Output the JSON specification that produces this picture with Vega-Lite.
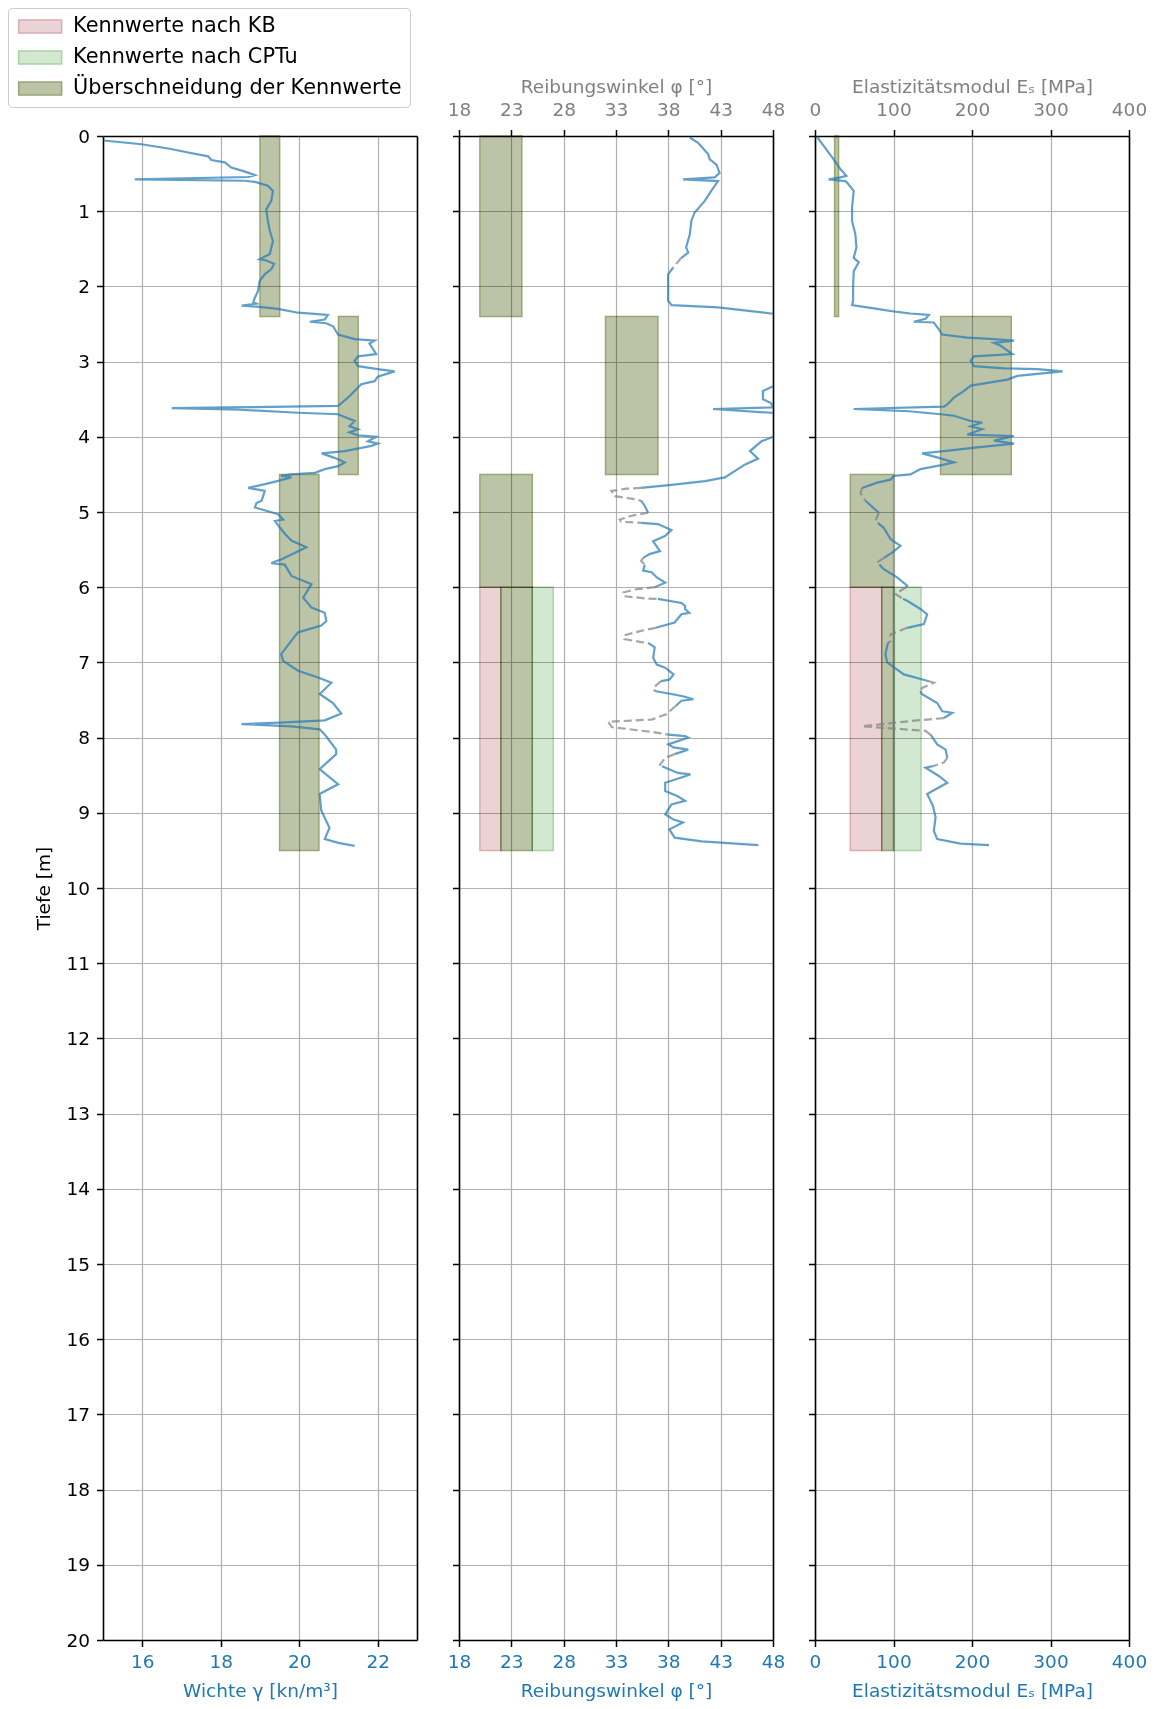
{
  "$schema": "https://vega.github.io/schema/vega-lite/v6.json",
  "autosize": {"type": "pad"},
  "padding": {"left": 7, "top": 7, "right": 10, "bottom": 4},
  "spacing": 42,
  "bounds": "flush",
  "datasets": {
    "bereiche": [
      {"param": "gamma", "kategorie": "Überschneidung der Kennwerte", "tiefe_von": 0, "tiefe_bis": 2.4, "wert_von": 19, "wert_bis": 19.5},
      {"param": "gamma", "kategorie": "Überschneidung der Kennwerte", "tiefe_von": 2.4, "tiefe_bis": 4.5, "wert_von": 21, "wert_bis": 21.5},
      {"param": "gamma", "kategorie": "Überschneidung der Kennwerte", "tiefe_von": 4.5, "tiefe_bis": 9.5, "wert_von": 19.5, "wert_bis": 20.5},
      {"param": "phi", "kategorie": "Überschneidung der Kennwerte", "tiefe_von": 0, "tiefe_bis": 2.4, "wert_von": 20, "wert_bis": 24},
      {"param": "phi", "kategorie": "Überschneidung der Kennwerte", "tiefe_von": 2.4, "tiefe_bis": 4.5, "wert_von": 32, "wert_bis": 37},
      {"param": "phi", "kategorie": "Überschneidung der Kennwerte", "tiefe_von": 4.5, "tiefe_bis": 6, "wert_von": 20, "wert_bis": 25},
      {"param": "phi", "kategorie": "Kennwerte nach KB", "tiefe_von": 6, "tiefe_bis": 9.5, "wert_von": 20, "wert_bis": 22},
      {"param": "phi", "kategorie": "Kennwerte nach CPTu", "tiefe_von": 6, "tiefe_bis": 9.5, "wert_von": 25, "wert_bis": 27},
      {"param": "phi", "kategorie": "Überschneidung der Kennwerte", "tiefe_von": 6, "tiefe_bis": 9.5, "wert_von": 22, "wert_bis": 25},
      {"param": "es", "kategorie": "Überschneidung der Kennwerte", "tiefe_von": 0, "tiefe_bis": 2.4, "wert_von": 25, "wert_bis": 30},
      {"param": "es", "kategorie": "Überschneidung der Kennwerte", "tiefe_von": 2.4, "tiefe_bis": 4.5, "wert_von": 160, "wert_bis": 250},
      {"param": "es", "kategorie": "Überschneidung der Kennwerte", "tiefe_von": 4.5, "tiefe_bis": 6, "wert_von": 45, "wert_bis": 100},
      {"param": "es", "kategorie": "Kennwerte nach KB", "tiefe_von": 6, "tiefe_bis": 9.5, "wert_von": 45, "wert_bis": 85},
      {"param": "es", "kategorie": "Kennwerte nach CPTu", "tiefe_von": 6, "tiefe_bis": 9.5, "wert_von": 100, "wert_bis": 135},
      {"param": "es", "kategorie": "Überschneidung der Kennwerte", "tiefe_von": 6, "tiefe_bis": 9.5, "wert_von": 85, "wert_bis": 100}
    ],
    "gamma": [
      {"t": 0.06, "v": 15.02}, {"t": 0.11, "v": 15.98}, {"t": 0.17, "v": 16.7}, {"t": 0.22, "v": 17.17}, {"t": 0.27, "v": 17.68},
      {"t": 0.32, "v": 17.76}, {"t": 0.35, "v": 18.1}, {"t": 0.42, "v": 18.27}, {"t": 0.47, "v": 18.6}, {"t": 0.52, "v": 18.87},
      {"t": 0.545, "v": 18.7}, {"t": 0.576, "v": 15.81}, {"t": 0.595, "v": 18.6}, {"t": 0.61, "v": 18.87}, {"t": 0.66, "v": 19.2},
      {"t": 0.73, "v": 19.33}, {"t": 0.86, "v": 19.29}, {"t": 0.975, "v": 19.16}, {"t": 1.13, "v": 19.2}, {"t": 1.26, "v": 19.25},
      {"t": 1.4, "v": 19.33}, {"t": 1.48, "v": 19.29}, {"t": 1.57, "v": 19.25}, {"t": 1.64, "v": 18.99}, {"t": 1.655, "v": 19.16},
      {"t": 1.7, "v": 19.36}, {"t": 1.77, "v": 19.29}, {"t": 1.84, "v": 19.12}, {"t": 1.93, "v": 18.99}, {"t": 2.06, "v": 18.95},
      {"t": 2.15, "v": 18.87}, {"t": 2.21, "v": 18.83}, {"t": 2.23, "v": 18.91}, {"t": 2.255, "v": 18.53}, {"t": 2.27, "v": 18.91},
      {"t": 2.3, "v": 19.46}, {"t": 2.35, "v": 19.97}, {"t": 2.38, "v": 20.73}, {"t": 2.44, "v": 20.65}, {"t": 2.47, "v": 20.27},
      {"t": 2.49, "v": 20.69}, {"t": 2.53, "v": 20.86}, {"t": 2.64, "v": 20.99}, {"t": 2.7, "v": 21.41}, {"t": 2.72, "v": 21.92},
      {"t": 2.76, "v": 21.79}, {"t": 2.9, "v": 21.96}, {"t": 2.93, "v": 21.5}, {"t": 2.99, "v": 21.41}, {"t": 3.06, "v": 21.5},
      {"t": 3.1, "v": 22.0}, {"t": 3.13, "v": 22.43}, {"t": 3.2, "v": 22.0}, {"t": 3.26, "v": 21.92}, {"t": 3.3, "v": 21.58},
      {"t": 3.39, "v": 21.41}, {"t": 3.48, "v": 21.24}, {"t": 3.59, "v": 20.99}, {"t": 3.61, "v": 18.2}, {"t": 3.62, "v": 16.75},
      {"t": 3.64, "v": 18.5}, {"t": 3.68, "v": 19.97}, {"t": 3.7, "v": 20.99}, {"t": 3.79, "v": 21.41}, {"t": 3.86, "v": 21.28},
      {"t": 3.9, "v": 21.5}, {"t": 3.94, "v": 21.28}, {"t": 3.98, "v": 21.5}, {"t": 4.0, "v": 21.96}, {"t": 4.06, "v": 21.75},
      {"t": 4.09, "v": 22.0}, {"t": 4.12, "v": 21.84}, {"t": 4.19, "v": 21.16}, {"t": 4.22, "v": 20.57}, {"t": 4.28, "v": 20.9},
      {"t": 4.34, "v": 21.16}, {"t": 4.39, "v": 20.99}, {"t": 4.43, "v": 20.65}, {"t": 4.48, "v": 20.4}, {"t": 4.5, "v": 19.8},
      {"t": 4.52, "v": 19.54}, {"t": 4.54, "v": 19.8}, {"t": 4.61, "v": 19.29}, {"t": 4.68, "v": 18.7}, {"t": 4.72, "v": 19.12},
      {"t": 4.79, "v": 19.08}, {"t": 4.85, "v": 19.04}, {"t": 4.88, "v": 18.91}, {"t": 4.94, "v": 18.87}, {"t": 5.03, "v": 19.46},
      {"t": 5.1, "v": 19.59}, {"t": 5.12, "v": 19.38}, {"t": 5.23, "v": 19.54}, {"t": 5.3, "v": 19.65}, {"t": 5.38, "v": 19.8},
      {"t": 5.47, "v": 20.18}, {"t": 5.63, "v": 19.54}, {"t": 5.68, "v": 19.29}, {"t": 5.7, "v": 19.63}, {"t": 5.85, "v": 19.8},
      {"t": 5.94, "v": 20.22}, {"t": 5.96, "v": 20.31}, {"t": 6.14, "v": 20.1}, {"t": 6.27, "v": 20.31}, {"t": 6.34, "v": 20.65},
      {"t": 6.45, "v": 20.69}, {"t": 6.51, "v": 20.56}, {"t": 6.6, "v": 19.97}, {"t": 6.71, "v": 19.8}, {"t": 6.89, "v": 19.54},
      {"t": 6.98, "v": 19.59}, {"t": 7.11, "v": 19.97}, {"t": 7.2, "v": 20.48}, {"t": 7.27, "v": 20.82}, {"t": 7.42, "v": 20.52},
      {"t": 7.54, "v": 20.86}, {"t": 7.68, "v": 21.07}, {"t": 7.77, "v": 20.65}, {"t": 7.8, "v": 19.5}, {"t": 7.82, "v": 18.53},
      {"t": 7.85, "v": 19.8}, {"t": 7.89, "v": 20.52}, {"t": 7.96, "v": 20.65}, {"t": 8.16, "v": 20.94}, {"t": 8.22, "v": 20.94},
      {"t": 8.42, "v": 20.52}, {"t": 8.62, "v": 20.99}, {"t": 8.75, "v": 20.52}, {"t": 8.97, "v": 20.56}, {"t": 9.2, "v": 20.77},
      {"t": 9.35, "v": 20.65}, {"t": 9.4, "v": 21.0}, {"t": 9.44, "v": 21.41}
    ],
    "phi": [
      {"t": 0.02, "v": 40.05, "typ": "b", "seg": 1}, {"t": 0.09, "v": 40.84, "typ": "b", "seg": 1}, {"t": 0.24, "v": 41.8, "typ": "b", "seg": 1},
      {"t": 0.31, "v": 41.96, "typ": "b", "seg": 1}, {"t": 0.38, "v": 42.6, "typ": "b", "seg": 1}, {"t": 0.49, "v": 42.9, "typ": "b", "seg": 1},
      {"t": 0.55, "v": 42.43, "typ": "b", "seg": 1}, {"t": 0.576, "v": 39.4, "typ": "b", "seg": 1}, {"t": 0.6, "v": 42.75, "typ": "b", "seg": 1},
      {"t": 0.73, "v": 42.1, "typ": "b", "seg": 1}, {"t": 0.86, "v": 41.5, "typ": "b", "seg": 1}, {"t": 1.02, "v": 40.5, "typ": "b", "seg": 1},
      {"t": 1.13, "v": 40.2, "typ": "b", "seg": 1}, {"t": 1.31, "v": 40.05, "typ": "b", "seg": 1}, {"t": 1.48, "v": 39.7, "typ": "b", "seg": 1},
      {"t": 1.55, "v": 39.9, "typ": "b", "seg": 1}, {"t": 1.62, "v": 39.25, "typ": "b", "seg": 1},
      {"t": 1.62, "v": 39.25, "typ": "g", "seg": 2}, {"t": 1.75, "v": 38.45, "typ": "g", "seg": 2},
      {"t": 1.75, "v": 38.45, "typ": "b", "seg": 3}, {"t": 1.84, "v": 37.98, "typ": "b", "seg": 3}, {"t": 2.02, "v": 37.98, "typ": "b", "seg": 3},
      {"t": 2.19, "v": 37.98, "typ": "b", "seg": 3}, {"t": 2.25, "v": 38.3, "typ": "b", "seg": 3}, {"t": 2.28, "v": 42.75, "typ": "b", "seg": 3},
      {"t": 2.36, "v": 47.8, "typ": "b", "seg": 3}, {"t": 2.45, "v": 53, "typ": "b", "seg": 3}, {"t": 2.8, "v": 57, "typ": "b", "seg": 3},
      {"t": 3.2, "v": 53, "typ": "b", "seg": 3}, {"t": 3.33, "v": 48.0, "typ": "b", "seg": 3}, {"t": 3.39, "v": 47.04, "typ": "b", "seg": 3},
      {"t": 3.5, "v": 47.04, "typ": "b", "seg": 3}, {"t": 3.55, "v": 47.8, "typ": "b", "seg": 3}, {"t": 3.61, "v": 48.0, "typ": "b", "seg": 3},
      {"t": 3.63, "v": 42.27, "typ": "b", "seg": 3}, {"t": 3.68, "v": 47.8, "typ": "b", "seg": 3}, {"t": 3.75, "v": 52, "typ": "b", "seg": 3},
      {"t": 3.9, "v": 52, "typ": "b", "seg": 3}, {"t": 4.0, "v": 48.0, "typ": "b", "seg": 3}, {"t": 4.06, "v": 46.9, "typ": "b", "seg": 3},
      {"t": 4.19, "v": 45.8, "typ": "b", "seg": 3}, {"t": 4.29, "v": 46.57, "typ": "b", "seg": 3}, {"t": 4.37, "v": 45.3, "typ": "b", "seg": 3},
      {"t": 4.54, "v": 43.4, "typ": "b", "seg": 3}, {"t": 4.59, "v": 41.5, "typ": "b", "seg": 3}, {"t": 4.64, "v": 38.3, "typ": "b", "seg": 3},
      {"t": 4.68, "v": 35.4, "typ": "b", "seg": 3},
      {"t": 4.68, "v": 35.4, "typ": "g", "seg": 4}, {"t": 4.69, "v": 34.0, "typ": "g", "seg": 4}, {"t": 4.72, "v": 32.57, "typ": "g", "seg": 4},
      {"t": 4.79, "v": 32.9, "typ": "g", "seg": 4}, {"t": 4.83, "v": 34.8, "typ": "g", "seg": 4}, {"t": 4.85, "v": 35.4, "typ": "g", "seg": 4},
      {"t": 4.85, "v": 35.4, "typ": "b", "seg": 5}, {"t": 4.92, "v": 35.75, "typ": "b", "seg": 5}, {"t": 5.01, "v": 36.07, "typ": "b", "seg": 5},
      {"t": 5.01, "v": 36.07, "typ": "g", "seg": 6}, {"t": 5.05, "v": 34.5, "typ": "g", "seg": 6}, {"t": 5.1, "v": 33.36, "typ": "g", "seg": 6},
      {"t": 5.13, "v": 33.5, "typ": "g", "seg": 6}, {"t": 5.145, "v": 35.4, "typ": "g", "seg": 6},
      {"t": 5.145, "v": 35.4, "typ": "b", "seg": 7}, {"t": 5.16, "v": 37.0, "typ": "b", "seg": 7}, {"t": 5.24, "v": 38.3, "typ": "b", "seg": 7},
      {"t": 5.32, "v": 37.67, "typ": "b", "seg": 7}, {"t": 5.39, "v": 36.55, "typ": "b", "seg": 7}, {"t": 5.52, "v": 37.2, "typ": "b", "seg": 7},
      {"t": 5.56, "v": 36.2, "typ": "b", "seg": 7}, {"t": 5.61, "v": 35.6, "typ": "b", "seg": 7},
      {"t": 5.61, "v": 35.6, "typ": "g", "seg": 8}, {"t": 5.65, "v": 35.4, "typ": "g", "seg": 8}, {"t": 5.7, "v": 35.75, "typ": "g", "seg": 8},
      {"t": 5.7, "v": 35.75, "typ": "b", "seg": 9}, {"t": 5.78, "v": 35.6, "typ": "b", "seg": 9}, {"t": 5.8, "v": 36.4, "typ": "b", "seg": 9},
      {"t": 5.87, "v": 36.9, "typ": "b", "seg": 9}, {"t": 5.94, "v": 37.7, "typ": "b", "seg": 9}, {"t": 6.0, "v": 36.7, "typ": "b", "seg": 9},
      {"t": 6.0, "v": 36.7, "typ": "g", "seg": 10}, {"t": 6.03, "v": 34.8, "typ": "g", "seg": 10}, {"t": 6.07, "v": 33.7, "typ": "g", "seg": 10},
      {"t": 6.12, "v": 33.8, "typ": "g", "seg": 10}, {"t": 6.15, "v": 35.9, "typ": "g", "seg": 10}, {"t": 6.155, "v": 37.0, "typ": "g", "seg": 10},
      {"t": 6.155, "v": 37.0, "typ": "b", "seg": 11}, {"t": 6.21, "v": 39.25, "typ": "b", "seg": 11}, {"t": 6.25, "v": 39.6, "typ": "b", "seg": 11},
      {"t": 6.29, "v": 39.6, "typ": "b", "seg": 11}, {"t": 6.34, "v": 40.0, "typ": "b", "seg": 11}, {"t": 6.36, "v": 39.25, "typ": "b", "seg": 11},
      {"t": 6.47, "v": 38.6, "typ": "b", "seg": 11}, {"t": 6.54, "v": 36.8, "typ": "b", "seg": 11},
      {"t": 6.54, "v": 36.8, "typ": "g", "seg": 12}, {"t": 6.58, "v": 35.4, "typ": "g", "seg": 12}, {"t": 6.64, "v": 33.8, "typ": "g", "seg": 12},
      {"t": 6.69, "v": 33.8, "typ": "g", "seg": 12}, {"t": 6.73, "v": 35.4, "typ": "g", "seg": 12}, {"t": 6.74, "v": 36.07, "typ": "g", "seg": 12},
      {"t": 6.74, "v": 36.07, "typ": "b", "seg": 13}, {"t": 6.8, "v": 36.7, "typ": "b", "seg": 13}, {"t": 6.94, "v": 36.55, "typ": "b", "seg": 13},
      {"t": 7.03, "v": 36.9, "typ": "b", "seg": 13}, {"t": 7.07, "v": 37.7, "typ": "b", "seg": 13}, {"t": 7.16, "v": 38.5, "typ": "b", "seg": 13},
      {"t": 7.23, "v": 38.1, "typ": "b", "seg": 13}, {"t": 7.25, "v": 37.3, "typ": "b", "seg": 13},
      {"t": 7.25, "v": 37.3, "typ": "g", "seg": 14}, {"t": 7.34, "v": 36.55, "typ": "g", "seg": 14}, {"t": 7.38, "v": 36.7, "typ": "g", "seg": 14},
      {"t": 7.38, "v": 36.7, "typ": "b", "seg": 15}, {"t": 7.42, "v": 38.3, "typ": "b", "seg": 15}, {"t": 7.45, "v": 39.4, "typ": "b", "seg": 15},
      {"t": 7.49, "v": 40.4, "typ": "b", "seg": 15}, {"t": 7.51, "v": 39.25, "typ": "b", "seg": 15}, {"t": 7.58, "v": 38.7, "typ": "b", "seg": 15},
      {"t": 7.58, "v": 38.7, "typ": "g", "seg": 16}, {"t": 7.69, "v": 37.8, "typ": "g", "seg": 16}, {"t": 7.76, "v": 36.4, "typ": "g", "seg": 16},
      {"t": 7.79, "v": 32.25, "typ": "g", "seg": 16}, {"t": 7.86, "v": 32.6, "typ": "g", "seg": 16}, {"t": 7.93, "v": 36.7, "typ": "g", "seg": 16},
      {"t": 7.96, "v": 38.0, "typ": "g", "seg": 16},
      {"t": 7.96, "v": 38.0, "typ": "b", "seg": 17}, {"t": 7.98, "v": 39.6, "typ": "b", "seg": 17}, {"t": 8.0, "v": 39.9, "typ": "b", "seg": 17},
      {"t": 8.09, "v": 38.0, "typ": "b", "seg": 17}, {"t": 8.13, "v": 38.5, "typ": "b", "seg": 17}, {"t": 8.16, "v": 39.9, "typ": "b", "seg": 17},
      {"t": 8.22, "v": 38.6, "typ": "b", "seg": 17},
      {"t": 8.22, "v": 38.6, "typ": "g", "seg": 18}, {"t": 8.27, "v": 37.7, "typ": "g", "seg": 18}, {"t": 8.36, "v": 37.2, "typ": "g", "seg": 18},
      {"t": 8.38, "v": 37.4, "typ": "g", "seg": 18},
      {"t": 8.38, "v": 37.4, "typ": "b", "seg": 19}, {"t": 8.47, "v": 38.9, "typ": "b", "seg": 19}, {"t": 8.49, "v": 40.1, "typ": "b", "seg": 19},
      {"t": 8.53, "v": 39.25, "typ": "b", "seg": 19}, {"t": 8.6, "v": 37.7, "typ": "b", "seg": 19}, {"t": 8.71, "v": 37.7, "typ": "b", "seg": 19},
      {"t": 8.78, "v": 38.9, "typ": "b", "seg": 19}, {"t": 8.84, "v": 39.6, "typ": "b", "seg": 19}, {"t": 8.89, "v": 38.3, "typ": "b", "seg": 19},
      {"t": 9.02, "v": 37.7, "typ": "b", "seg": 19}, {"t": 9.09, "v": 38.5, "typ": "b", "seg": 19}, {"t": 9.13, "v": 39.4, "typ": "b", "seg": 19},
      {"t": 9.22, "v": 38.1, "typ": "b", "seg": 19}, {"t": 9.33, "v": 38.6, "typ": "b", "seg": 19}, {"t": 9.38, "v": 41.2, "typ": "b", "seg": 19},
      {"t": 9.43, "v": 46.6, "typ": "b", "seg": 19}
    ],
    "es": [
      {"t": 0.01, "v": 2.5, "typ": "b", "seg": 1}, {"t": 0.16, "v": 13.2, "typ": "b", "seg": 1}, {"t": 0.31, "v": 23.8, "typ": "b", "seg": 1},
      {"t": 0.44, "v": 32.3, "typ": "b", "seg": 1}, {"t": 0.53, "v": 40, "typ": "b", "seg": 1}, {"t": 0.55, "v": 32.3, "typ": "b", "seg": 1},
      {"t": 0.576, "v": 17.4, "typ": "b", "seg": 1}, {"t": 0.6, "v": 38.7, "typ": "b", "seg": 1}, {"t": 0.62, "v": 40.8, "typ": "b", "seg": 1},
      {"t": 0.73, "v": 49.3, "typ": "b", "seg": 1}, {"t": 0.95, "v": 47.2, "typ": "b", "seg": 1}, {"t": 1.13, "v": 47.2, "typ": "b", "seg": 1},
      {"t": 1.31, "v": 51.4, "typ": "b", "seg": 1}, {"t": 1.48, "v": 52.8, "typ": "b", "seg": 1}, {"t": 1.62, "v": 49.3, "typ": "b", "seg": 1},
      {"t": 1.68, "v": 55.7, "typ": "b", "seg": 1}, {"t": 1.8, "v": 49.3, "typ": "b", "seg": 1}, {"t": 2.02, "v": 48.5, "typ": "b", "seg": 1},
      {"t": 2.19, "v": 48.5, "typ": "b", "seg": 1}, {"t": 2.25, "v": 47.2, "typ": "b", "seg": 1}, {"t": 2.3, "v": 79.1, "typ": "b", "seg": 1},
      {"t": 2.34, "v": 104.6, "typ": "b", "seg": 1}, {"t": 2.36, "v": 121.6, "typ": "b", "seg": 1}, {"t": 2.38, "v": 145, "typ": "b", "seg": 1},
      {"t": 2.43, "v": 140.8, "typ": "b", "seg": 1}, {"t": 2.47, "v": 125.9, "typ": "b", "seg": 1}, {"t": 2.48, "v": 151.4, "typ": "b", "seg": 1},
      {"t": 2.57, "v": 157.8, "typ": "b", "seg": 1}, {"t": 2.64, "v": 162, "typ": "b", "seg": 1}, {"t": 2.68, "v": 194, "typ": "b", "seg": 1},
      {"t": 2.7, "v": 228, "typ": "b", "seg": 1}, {"t": 2.72, "v": 253.6, "typ": "b", "seg": 1}, {"t": 2.75, "v": 228, "typ": "b", "seg": 1},
      {"t": 2.79, "v": 236.6, "typ": "b", "seg": 1}, {"t": 2.9, "v": 251.5, "typ": "b", "seg": 1}, {"t": 2.93, "v": 202.5, "typ": "b", "seg": 1},
      {"t": 2.99, "v": 198.3, "typ": "b", "seg": 1}, {"t": 3.06, "v": 202.5, "typ": "b", "seg": 1}, {"t": 3.09, "v": 240.8, "typ": "b", "seg": 1},
      {"t": 3.1, "v": 283.4, "typ": "b", "seg": 1}, {"t": 3.13, "v": 315.3, "typ": "b", "seg": 1}, {"t": 3.19, "v": 257.8, "typ": "b", "seg": 1},
      {"t": 3.24, "v": 245.1, "typ": "b", "seg": 1}, {"t": 3.32, "v": 198.3, "typ": "b", "seg": 1}, {"t": 3.39, "v": 189.8, "typ": "b", "seg": 1},
      {"t": 3.48, "v": 177, "typ": "b", "seg": 1}, {"t": 3.57, "v": 168.5, "typ": "b", "seg": 1}, {"t": 3.6, "v": 164.3, "typ": "b", "seg": 1},
      {"t": 3.63, "v": 49.3, "typ": "b", "seg": 1}, {"t": 3.66, "v": 120, "typ": "b", "seg": 1}, {"t": 3.7, "v": 160, "typ": "b", "seg": 1},
      {"t": 3.72, "v": 177, "typ": "b", "seg": 1}, {"t": 3.79, "v": 198.3, "typ": "b", "seg": 1}, {"t": 3.81, "v": 213.1, "typ": "b", "seg": 1},
      {"t": 3.86, "v": 198.3, "typ": "b", "seg": 1}, {"t": 3.9, "v": 213.1, "typ": "b", "seg": 1}, {"t": 3.97, "v": 194, "typ": "b", "seg": 1},
      {"t": 3.99, "v": 253.6, "typ": "b", "seg": 1}, {"t": 4.05, "v": 228, "typ": "b", "seg": 1}, {"t": 4.09, "v": 253.6, "typ": "b", "seg": 1},
      {"t": 4.14, "v": 206.8, "typ": "b", "seg": 1}, {"t": 4.19, "v": 164.3, "typ": "b", "seg": 1}, {"t": 4.22, "v": 136.5, "typ": "b", "seg": 1},
      {"t": 4.28, "v": 157.8, "typ": "b", "seg": 1}, {"t": 4.34, "v": 177, "typ": "b", "seg": 1}, {"t": 4.37, "v": 164.3, "typ": "b", "seg": 1},
      {"t": 4.43, "v": 134.4, "typ": "b", "seg": 1}, {"t": 4.5, "v": 121.6, "typ": "b", "seg": 1}, {"t": 4.52, "v": 100.4, "typ": "b", "seg": 1},
      {"t": 4.57, "v": 96.1, "typ": "b", "seg": 1}, {"t": 4.61, "v": 79.1, "typ": "b", "seg": 1}, {"t": 4.68, "v": 60, "typ": "b", "seg": 1},
      {"t": 4.68, "v": 60, "typ": "g", "seg": 2}, {"t": 4.75, "v": 58, "typ": "g", "seg": 2}, {"t": 4.85, "v": 64.2, "typ": "g", "seg": 2},
      {"t": 4.85, "v": 64.2, "typ": "b", "seg": 3}, {"t": 5.01, "v": 81.2, "typ": "b", "seg": 3},
      {"t": 5.01, "v": 81.2, "typ": "g", "seg": 4}, {"t": 5.12, "v": 77, "typ": "g", "seg": 4}, {"t": 5.145, "v": 80, "typ": "g", "seg": 4},
      {"t": 5.145, "v": 80, "typ": "b", "seg": 5}, {"t": 5.21, "v": 87.6, "typ": "b", "seg": 5}, {"t": 5.36, "v": 96.1, "typ": "b", "seg": 5},
      {"t": 5.45, "v": 108.9, "typ": "b", "seg": 5}, {"t": 5.54, "v": 98.3, "typ": "b", "seg": 5}, {"t": 5.61, "v": 88, "typ": "b", "seg": 5},
      {"t": 5.61, "v": 88, "typ": "g", "seg": 6}, {"t": 5.67, "v": 79.1, "typ": "g", "seg": 6}, {"t": 5.7, "v": 82, "typ": "g", "seg": 6},
      {"t": 5.7, "v": 82, "typ": "b", "seg": 7}, {"t": 5.76, "v": 87.6, "typ": "b", "seg": 7}, {"t": 5.87, "v": 104.6, "typ": "b", "seg": 7},
      {"t": 5.98, "v": 117.4, "typ": "b", "seg": 7}, {"t": 6.0, "v": 116, "typ": "b", "seg": 7},
      {"t": 6.0, "v": 116, "typ": "g", "seg": 8}, {"t": 6.09, "v": 102.5, "typ": "g", "seg": 8}, {"t": 6.155, "v": 112, "typ": "g", "seg": 8},
      {"t": 6.155, "v": 112, "typ": "b", "seg": 9}, {"t": 6.18, "v": 117.4, "typ": "b", "seg": 9}, {"t": 6.29, "v": 134.4, "typ": "b", "seg": 9},
      {"t": 6.36, "v": 142.9, "typ": "b", "seg": 9}, {"t": 6.49, "v": 138.7, "typ": "b", "seg": 9}, {"t": 6.54, "v": 117.4, "typ": "b", "seg": 9},
      {"t": 6.54, "v": 117.4, "typ": "g", "seg": 10}, {"t": 6.63, "v": 96.1, "typ": "g", "seg": 10}, {"t": 6.72, "v": 96.1, "typ": "g", "seg": 10},
      {"t": 6.74, "v": 93, "typ": "g", "seg": 10},
      {"t": 6.74, "v": 93, "typ": "b", "seg": 11}, {"t": 6.89, "v": 89.7, "typ": "b", "seg": 11}, {"t": 7.0, "v": 91.9, "typ": "b", "seg": 11},
      {"t": 7.16, "v": 113.2, "typ": "b", "seg": 11}, {"t": 7.25, "v": 145.1, "typ": "b", "seg": 11},
      {"t": 7.25, "v": 145.1, "typ": "g", "seg": 12}, {"t": 7.27, "v": 151.4, "typ": "g", "seg": 12}, {"t": 7.34, "v": 136.5, "typ": "g", "seg": 12},
      {"t": 7.38, "v": 134.4, "typ": "g", "seg": 12},
      {"t": 7.38, "v": 134.4, "typ": "b", "seg": 13}, {"t": 7.42, "v": 136, "typ": "b", "seg": 13}, {"t": 7.54, "v": 155.7, "typ": "b", "seg": 13},
      {"t": 7.65, "v": 162.1, "typ": "b", "seg": 13}, {"t": 7.67, "v": 174.9, "typ": "b", "seg": 13}, {"t": 7.74, "v": 164.2, "typ": "b", "seg": 13},
      {"t": 7.74, "v": 164.2, "typ": "g", "seg": 14}, {"t": 7.78, "v": 121.7, "typ": "g", "seg": 14}, {"t": 7.85, "v": 60, "typ": "g", "seg": 14},
      {"t": 7.88, "v": 100.4, "typ": "g", "seg": 14}, {"t": 7.91, "v": 140.8, "typ": "g", "seg": 14}, {"t": 7.96, "v": 147.2, "typ": "g", "seg": 14},
      {"t": 7.96, "v": 147.2, "typ": "b", "seg": 15}, {"t": 8.09, "v": 155.7, "typ": "b", "seg": 15}, {"t": 8.16, "v": 166.4, "typ": "b", "seg": 15},
      {"t": 8.27, "v": 168.5, "typ": "b", "seg": 15},
      {"t": 8.27, "v": 168.5, "typ": "g", "seg": 16}, {"t": 8.33, "v": 164.3, "typ": "g", "seg": 16}, {"t": 8.38, "v": 150, "typ": "g", "seg": 16},
      {"t": 8.38, "v": 150, "typ": "b", "seg": 17}, {"t": 8.4, "v": 140.8, "typ": "b", "seg": 17}, {"t": 8.51, "v": 157.8, "typ": "b", "seg": 17},
      {"t": 8.6, "v": 168.5, "typ": "b", "seg": 17}, {"t": 8.75, "v": 142.9, "typ": "b", "seg": 17}, {"t": 8.9, "v": 150, "typ": "b", "seg": 17},
      {"t": 9.06, "v": 153.6, "typ": "b", "seg": 17}, {"t": 9.24, "v": 151.4, "typ": "b", "seg": 17}, {"t": 9.35, "v": 155.7, "typ": "b", "seg": 17},
      {"t": 9.41, "v": 185.5, "typ": "b", "seg": 17}, {"t": 9.43, "v": 221.7, "typ": "b", "seg": 17}
    ]
  },
  "hconcat": [
    {
      "width": 314,
      "height": 1504,
      "layer": [
        {
          "data": {"name": "bereiche"},
          "transform": [{"filter": "datum.param == 'gamma'"}],
          "mark": {"type": "rect", "strokeWidth": 1.5, "blend": "multiply"},
          "encoding": {
            "x": {"field": "wert_von", "type": "quantitative",
              "scale": {"domain": [15, 23], "nice": false, "zero": false},
              "axis": {"orient": "bottom", "values": [16, 18, 20, 22], "grid": true, "gridColor": "#b0b0b0", "gridWidth": 1.2,
                "domainColor": "black", "domainWidth": 1.6, "tickColor": "black", "tickSize": 6.5, "tickWidth": 1.5,
                "labelColor": "#1f77b4", "labelFontSize": 18.5, "labelPadding": 6, "labelFlush": false, "labelOverlap": false,
                "title": "Wichte γ [kn/m³]", "titleColor": "#1f77b4", "titleFontSize": 18.5, "titleFontWeight": "normal", "titlePadding": 10}},
            "x2": {"field": "wert_bis"},
            "y": {"field": "tiefe_von", "type": "quantitative",
              "scale": {"domain": [0, 20], "reverse": true, "nice": false, "zero": false},
              "axis": {"orient": "left", "values": [0, 1, 2, 3, 4, 5, 6, 7, 8, 9, 10, 11, 12, 13, 14, 15, 16, 17, 18, 19, 20],
                "grid": true, "gridColor": "#b0b0b0", "gridWidth": 1.2,
                "gridOpacity": {"condition": {"test": "datum.value == 0 || datum.value == 20", "value": 0}, "value": 1},
                "domainColor": "black", "domainWidth": 1.6, "tickColor": "black", "tickSize": 6.5, "tickWidth": 1.5,
                "labelColor": "black", "labelFontSize": 18.5, "labelPadding": 7, "labelFlush": false, "labelOverlap": false,
                "title": "Tiefe [m]", "titleColor": "black", "titleFontSize": 18.5, "titleFontWeight": "normal", "titlePadding": 12}},
            "y2": {"field": "tiefe_bis"},
            "color": {"field": "kategorie", "type": "nominal",
              "scale": {"domain": ["Kennwerte nach KB", "Kennwerte nach CPTu", "Überschneidung der Kennwerte"], "range": ["#ebd2d4", "#d2e8d1", "#bcc4a8"]},
              "legend": {"title": null, "orient": "none", "legendX": -95, "legendY": -128,
                "symbolType": "M-3.07,-0.93H3.07V0.93H-3.07Z", "symbolSize": 196, "symbolStrokeWidth": 1.5,
                "labelFontSize": 20.8, "labelColor": "black", "labelOffset": 22.5, "symbolOffset": 13.75, "rowPadding": 9,
                "padding": 8, "fillColor": "white", "strokeColor": "#cccccc", "cornerRadius": 4, "labelLimit": 600}},
            "stroke": {"field": "kategorie", "type": "nominal",
              "scale": {"domain": ["Kennwerte nach KB", "Kennwerte nach CPTu", "Überschneidung der Kennwerte"], "range": ["#d9adb1", "#a9d2a7", "#98a676"]},
              "legend": {"title": null, "orient": "none", "legendX": -95, "legendY": -128,
                "symbolType": "M-3.07,-0.93H3.07V0.93H-3.07Z", "symbolSize": 196, "symbolStrokeWidth": 1.5,
                "labelFontSize": 20.8, "labelColor": "black", "labelOffset": 22.5, "symbolOffset": 13.75, "rowPadding": 9,
                "padding": 8, "fillColor": "white", "strokeColor": "#cccccc", "cornerRadius": 4, "labelLimit": 600}}
          }
        },
        {
          "data": {"name": "gamma"},
          "mark": {"type": "line", "clip": true, "strokeWidth": 2.2, "color": "#1f77b4", "strokeOpacity": 0.7},
          "encoding": {
            "x": {"field": "v", "type": "quantitative",
              "axis": {"orient": "top", "grid": false, "ticks": false, "labels": false, "title": null, "domainColor": "black", "domainWidth": 1.6}},
            "y": {"field": "t", "type": "quantitative",
              "axis": {"orient": "right", "grid": false, "ticks": false, "labels": false, "title": null, "domainColor": "black", "domainWidth": 1.6}},
            "order": {"field": "t", "type": "quantitative"}
          }
        }
      ],
      "resolve": {"axis": {"x": "independent", "y": "independent"}}
    },
    {
      "width": 314,
      "height": 1504,
      "layer": [
        {
          "data": {"name": "bereiche"},
          "transform": [{"filter": "datum.param == 'phi'"}],
          "mark": {"type": "rect", "strokeWidth": 1.5, "blend": "multiply"},
          "encoding": {
            "x": {"field": "wert_von", "type": "quantitative",
              "scale": {"domain": [18, 48], "nice": false, "zero": false},
              "axis": {"orient": "bottom", "values": [18, 23, 28, 33, 38, 43, 48], "grid": true, "gridColor": "#b0b0b0", "gridWidth": 1.2,
                "domainColor": "black", "domainWidth": 1.6, "tickColor": "black", "tickSize": 6.5, "tickWidth": 1.5,
                "labelColor": "#1f77b4", "labelFontSize": 18.5, "labelPadding": 6, "labelFlush": false, "labelOverlap": false,
                "title": "Reibungswinkel φ [°]", "titleColor": "#1f77b4", "titleFontSize": 18.5, "titleFontWeight": "normal", "titlePadding": 10}},
            "x2": {"field": "wert_bis"},
            "y": {"field": "tiefe_von", "type": "quantitative",
              "scale": {"domain": [0, 20], "reverse": true, "nice": false, "zero": false},
              "axis": {"orient": "left", "values": [0, 1, 2, 3, 4, 5, 6, 7, 8, 9, 10, 11, 12, 13, 14, 15, 16, 17, 18, 19, 20],
                "grid": true, "gridColor": "#b0b0b0", "gridWidth": 1.2,
                "gridOpacity": {"condition": {"test": "datum.value == 0 || datum.value == 20", "value": 0}, "value": 1},
                "domainColor": "black", "domainWidth": 1.6, "tickColor": "black", "tickSize": 6.5, "tickWidth": 1.5,
                "labels": false, "title": null}},
            "y2": {"field": "tiefe_bis"},
            "color": {"field": "kategorie", "type": "nominal",
              "scale": {"domain": ["Kennwerte nach KB", "Kennwerte nach CPTu", "Überschneidung der Kennwerte"], "range": ["#ebd2d4", "#d2e8d1", "#bcc4a8"]},
              "legend": {"title": null, "orient": "none", "legendX": -95, "legendY": -128,
                "symbolType": "M-3.07,-0.93H3.07V0.93H-3.07Z", "symbolSize": 196, "symbolStrokeWidth": 1.5,
                "labelFontSize": 20.8, "labelColor": "black", "labelOffset": 22.5, "symbolOffset": 13.75, "rowPadding": 9,
                "padding": 8, "fillColor": "white", "strokeColor": "#cccccc", "cornerRadius": 4, "labelLimit": 600}},
            "stroke": {"field": "kategorie", "type": "nominal",
              "scale": {"domain": ["Kennwerte nach KB", "Kennwerte nach CPTu", "Überschneidung der Kennwerte"], "range": ["#d9adb1", "#a9d2a7", "#98a676"]},
              "legend": {"title": null, "orient": "none", "legendX": -95, "legendY": -128,
                "symbolType": "M-3.07,-0.93H3.07V0.93H-3.07Z", "symbolSize": 196, "symbolStrokeWidth": 1.5,
                "labelFontSize": 20.8, "labelColor": "black", "labelOffset": 22.5, "symbolOffset": 13.75, "rowPadding": 9,
                "padding": 8, "fillColor": "white", "strokeColor": "#cccccc", "cornerRadius": 4, "labelLimit": 600}}
          }
        },
        {
          "data": {"name": "phi"},
          "transform": [{"filter": "datum.typ == 'b'"}],
          "mark": {"type": "line", "clip": true, "strokeWidth": 2.2, "color": "#1f77b4", "strokeOpacity": 0.7},
          "encoding": {
            "x": {"field": "v", "type": "quantitative",
              "axis": {"orient": "top", "values": [18, 23, 28, 33, 38, 43, 48], "grid": false,
                "domainColor": "black", "domainWidth": 1.6, "tickColor": "black", "tickSize": 6.5, "tickWidth": 1.5,
                "labelColor": "#808080", "labelFontSize": 18.5, "labelPadding": 10, "labelFlush": false, "labelOverlap": false,
                "title": "Reibungswinkel φ [°]", "titleColor": "#808080", "titleFontSize": 18.5, "titleFontWeight": "normal", "titlePadding": 4}},
            "y": {"field": "t", "type": "quantitative",
              "axis": {"orient": "right", "grid": false, "ticks": false, "labels": false, "title": null, "domainColor": "black", "domainWidth": 1.6}},
            "detail": {"field": "seg", "type": "nominal"},
            "order": {"field": "t", "type": "quantitative"}
          }
        },
        {
          "data": {"name": "phi"},
          "transform": [{"filter": "datum.typ == 'g'"}],
          "mark": {"type": "line", "clip": true, "strokeWidth": 2.2, "color": "#808080", "strokeOpacity": 0.7, "strokeDash": [8, 4]},
          "encoding": {
            "x": {"field": "v", "type": "quantitative", "axis": null},
            "y": {"field": "t", "type": "quantitative", "axis": null},
            "detail": {"field": "seg", "type": "nominal"},
            "order": {"field": "t", "type": "quantitative"}
          }
        }
      ],
      "resolve": {"axis": {"x": "independent", "y": "independent"}}
    },
    {
      "width": 314,
      "height": 1504,
      "layer": [
        {
          "data": {"name": "bereiche"},
          "transform": [{"filter": "datum.param == 'es'"}],
          "mark": {"type": "rect", "strokeWidth": 1.5, "blend": "multiply"},
          "encoding": {
            "x": {"field": "wert_von", "type": "quantitative",
              "scale": {"domain": [0, 400], "nice": false, "zero": false},
              "axis": {"orient": "bottom", "values": [0, 100, 200, 300, 400], "grid": true, "gridColor": "#b0b0b0", "gridWidth": 1.2,
                "domainColor": "black", "domainWidth": 1.6, "tickColor": "black", "tickSize": 6.5, "tickWidth": 1.5,
                "labelColor": "#1f77b4", "labelFontSize": 18.5, "labelPadding": 6, "labelFlush": false, "labelOverlap": false,
                "title": "Elastizitätsmodul Eₛ [MPa]", "titleColor": "#1f77b4", "titleFontSize": 18.5, "titleFontWeight": "normal", "titlePadding": 10}},
            "x2": {"field": "wert_bis"},
            "y": {"field": "tiefe_von", "type": "quantitative",
              "scale": {"domain": [0, 20], "reverse": true, "nice": false, "zero": false},
              "axis": {"orient": "left", "values": [0, 1, 2, 3, 4, 5, 6, 7, 8, 9, 10, 11, 12, 13, 14, 15, 16, 17, 18, 19, 20],
                "grid": true, "gridColor": "#b0b0b0", "gridWidth": 1.2,
                "gridOpacity": {"condition": {"test": "datum.value == 0 || datum.value == 20", "value": 0}, "value": 1},
                "domainColor": "black", "domainWidth": 1.6, "tickColor": "black", "tickSize": 6.5, "tickWidth": 1.5,
                "labels": false, "title": null}},
            "y2": {"field": "tiefe_bis"},
            "color": {"field": "kategorie", "type": "nominal",
              "scale": {"domain": ["Kennwerte nach KB", "Kennwerte nach CPTu", "Überschneidung der Kennwerte"], "range": ["#ebd2d4", "#d2e8d1", "#bcc4a8"]},
              "legend": {"title": null, "orient": "none", "legendX": -95, "legendY": -128,
                "symbolType": "M-3.07,-0.93H3.07V0.93H-3.07Z", "symbolSize": 196, "symbolStrokeWidth": 1.5,
                "labelFontSize": 20.8, "labelColor": "black", "labelOffset": 22.5, "symbolOffset": 13.75, "rowPadding": 9,
                "padding": 8, "fillColor": "white", "strokeColor": "#cccccc", "cornerRadius": 4, "labelLimit": 600}},
            "stroke": {"field": "kategorie", "type": "nominal",
              "scale": {"domain": ["Kennwerte nach KB", "Kennwerte nach CPTu", "Überschneidung der Kennwerte"], "range": ["#d9adb1", "#a9d2a7", "#98a676"]},
              "legend": {"title": null, "orient": "none", "legendX": -95, "legendY": -128,
                "symbolType": "M-3.07,-0.93H3.07V0.93H-3.07Z", "symbolSize": 196, "symbolStrokeWidth": 1.5,
                "labelFontSize": 20.8, "labelColor": "black", "labelOffset": 22.5, "symbolOffset": 13.75, "rowPadding": 9,
                "padding": 8, "fillColor": "white", "strokeColor": "#cccccc", "cornerRadius": 4, "labelLimit": 600}}
          }
        },
        {
          "data": {"name": "es"},
          "transform": [{"filter": "datum.typ == 'b'"}],
          "mark": {"type": "line", "clip": true, "strokeWidth": 2.2, "color": "#1f77b4", "strokeOpacity": 0.7},
          "encoding": {
            "x": {"field": "v", "type": "quantitative",
              "axis": {"orient": "top", "values": [0, 100, 200, 300, 400], "grid": false,
                "domainColor": "black", "domainWidth": 1.6, "tickColor": "black", "tickSize": 6.5, "tickWidth": 1.5,
                "labelColor": "#808080", "labelFontSize": 18.5, "labelPadding": 10, "labelFlush": false, "labelOverlap": false,
                "title": "Elastizitätsmodul Eₛ [MPa]", "titleColor": "#808080", "titleFontSize": 18.5, "titleFontWeight": "normal", "titlePadding": 4}},
            "y": {"field": "t", "type": "quantitative",
              "axis": {"orient": "right", "grid": false, "ticks": false, "labels": false, "title": null, "domainColor": "black", "domainWidth": 1.6}},
            "detail": {"field": "seg", "type": "nominal"},
            "order": {"field": "t", "type": "quantitative"}
          }
        },
        {
          "data": {"name": "es"},
          "transform": [{"filter": "datum.typ == 'g'"}],
          "mark": {"type": "line", "clip": true, "strokeWidth": 2.2, "color": "#808080", "strokeOpacity": 0.7, "strokeDash": [8, 4]},
          "encoding": {
            "x": {"field": "v", "type": "quantitative", "axis": null},
            "y": {"field": "t", "type": "quantitative", "axis": null},
            "detail": {"field": "seg", "type": "nominal"},
            "order": {"field": "t", "type": "quantitative"}
          }
        }
      ],
      "resolve": {"axis": {"x": "independent", "y": "independent"}}
    }
  ],
  "config": {
    "view": {"stroke": null},
    "font": "DejaVu Sans",
    "axis": {"labelFont": "DejaVu Sans", "titleFont": "DejaVu Sans"},
    "legend": {"labelFont": "DejaVu Sans"}
  }
}
